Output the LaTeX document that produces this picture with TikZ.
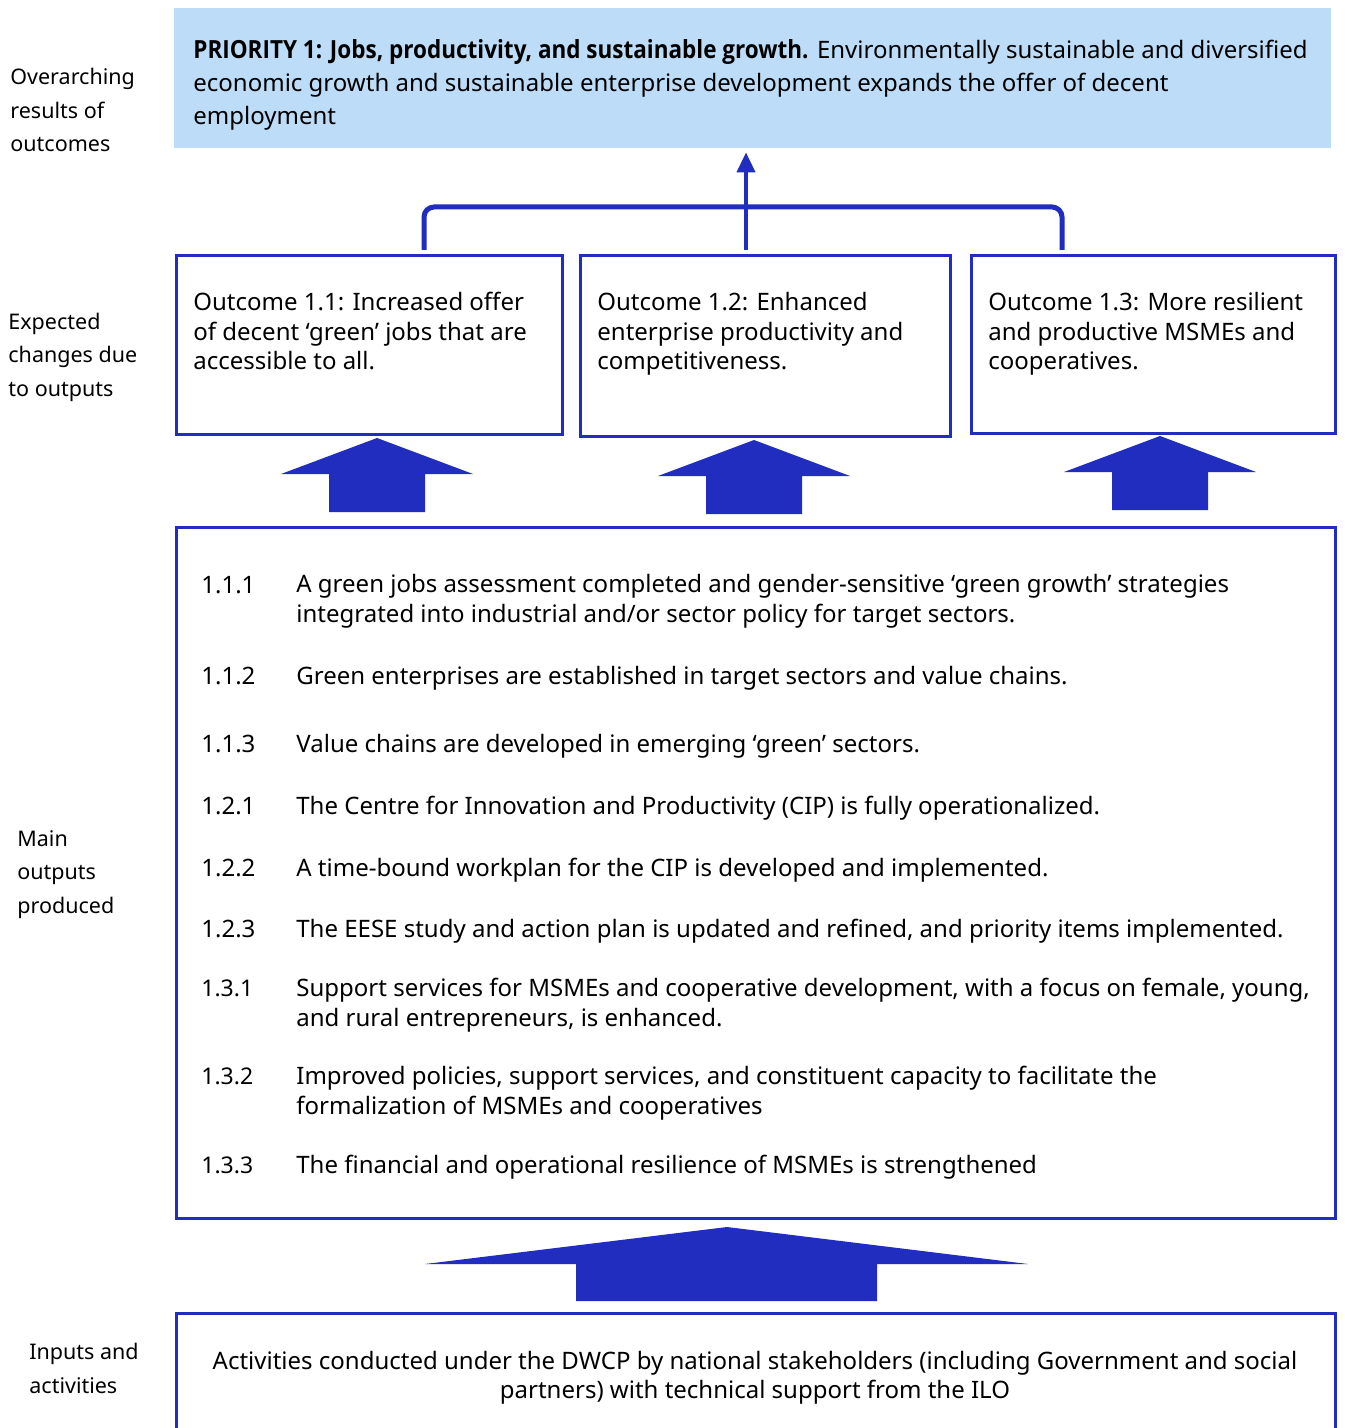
\documentclass[tikz,border=0pt]{standalone}
\usepackage{fontspec}
\setmainfont{Noto Sans}
\newfontfamily\priobold{Open Sans}[FakeStretch=0.9]
\usetikzlibrary{arrows.meta}
\definecolor{ilo blue}{RGB}{32,45,190}
\definecolor{prio fill}{RGB}{189,220,247}
\tikzset{
  sidelabel/.style={anchor=base west, align=left, inner sep=0pt, font=\fontsize{10.75}{16.75}\selectfont},
  boxtext/.style={anchor=base west, align=left, inner sep=0pt, font=\fontsize{12}{14.75}\selectfont},
  framebox/.style={draw=ilo blue, line width=1.5pt, inner sep=0pt},
  itemno/.style={anchor=base west, inner sep=0pt, font=\fontsize{12}{14}\selectfont},
  itemnosmall/.style={anchor=base west, inner sep=0pt, font=\fontsize{11.5}{14}\selectfont},
  itemtext/.style={anchor=base west, align=left, inner sep=0pt, font=\fontsize{12}{14.75}\selectfont},
  blockarrow/.style={fill=ilo blue},
}
\begin{document}
\begin{tikzpicture}[x=0.5pt, y=-0.5pt]
  \useasboundingbox (0,0) rectangle (1344,1428);

  % side labels (base = last line)
  \node[sidelabel] (lab1) at (10,152) {Overarching\\results of\\outcomes};
  \node[sidelabel] (lab2) at (8,396) {Expected\\changes due\\to outputs};
  \node[sidelabel] (lab3) at (17,913) {Main\\outputs\\produced};
  \node[sidelabel] (lab4) at (29,1393) {Inputs and\\activities};

  % priority
  \node[fill=prio fill, minimum width=578.5pt, minimum height=70pt, inner sep=0pt] (prio) at (752.5,78) {};
  \node[boxtext, font=\fontsize{12}{16.5}\selectfont] (priotext) at (193,125)
    {{\priobold\bfseries\fontsize{12.5}{16.5}\selectfont PRIORITY 1: Jobs, productivity, and sustainable growth.} Environmentally sustainable and diversified\\economic growth and sustainable enterprise development expands the offer of decent\\employment};

  % outcomes
  \node[framebox, minimum width=193pt, minimum height=89pt] (out1) at (369,345) {};
  \node[framebox, minimum width=185pt, minimum height=90pt] (out2) at (765,346) {};
  \node[framebox, minimum width=182pt, minimum height=88.5pt] (out3) at (1153,344.5) {};
  \node[boxtext] (out1text) at (193,370) {Outcome 1.1: Increased offer\\of decent ‘green’ jobs that are\\accessible to all.};
  \node[boxtext] (out2text) at (597,370) {Outcome 1.2: Enhanced\\enterprise productivity and\\competitiveness.};
  \node[boxtext] (out3text) at (988,370) {Outcome 1.3: More resilient\\and productive MSMEs and\\cooperatives.};

  % bracket and arrow to priority
  \coordinate (bl) at (424,250);
  \coordinate (bm) at (746,250);
  \coordinate (br) at (1062,250);
  \draw[ilo blue, line width=2.5pt, rounded corners=5pt] (bl) -- (424,207) -- (1062,207) -- (br);
  \draw[ilo blue, line width=2pt, -{Triangle[width=9pt,length=10pt]}, shorten >=2pt] (bm) -- (bm |- prio.south);

  % block arrows to outcomes
  \foreach \x/\y in {377/438, 754/440, 1160/436}
    \fill[blockarrow] (\x,\y) -- (\x+96,\y+36) -- (\x+48,\y+36) -- (\x+48,\y+74)
      -- (\x-48,\y+74) -- (\x-48,\y+36) -- (\x-96,\y+36) -- cycle;

  % outputs
  \node[framebox, minimum width=579.5pt, minimum height=345.5pt] (outputs) at (755.5,872.5) {};
  \node[itemno] (n111) at (201,593) {1.1.1};
  \node[itemtext] (t111) at (296,622) {A green jobs assessment completed and gender-sensitive ‘green growth’ strategies\\integrated into industrial and/or sector policy for target sectors.};
  \node[itemno] (n112) at (201,684) {1.1.2};
  \node[itemtext] (t112) at (296,684) {Green enterprises are established in target sectors and value chains.};
  \node[itemno] (n113) at (201,752) {1.1.3};
  \node[itemtext] (t113) at (296,752) {Value chains are developed in emerging ‘green’ sectors.};
  \node[itemno] (n121) at (201,814) {1.2.1};
  \node[itemtext] (t121) at (296,814) {The Centre for Innovation and Productivity (CIP) is fully operationalized.};
  \node[itemno] (n122) at (201,876) {1.2.2};
  \node[itemtext] (t122) at (296,876) {A time-bound workplan for the CIP is developed and implemented.};
  \node[itemno] (n123) at (201,937) {1.2.3};
  \node[itemtext] (t123) at (296,937) {The EESE study and action plan is updated and refined, and priority items implemented.};
  \node[itemnosmall] (n131) at (201,996) {1.3.1};
  \node[itemtext] (t131) at (296,1026) {Support services for MSMEs and cooperative development, with a focus on female, young,\\and rural entrepreneurs, is enhanced.};
  \node[itemnosmall] (n132) at (201,1084) {1.3.2};
  \node[itemtext] (t132) at (296,1114) {Improved policies, support services, and constituent capacity to facilitate the\\formalization of MSMEs and cooperatives};
  \node[itemnosmall] (n133) at (201,1173) {1.3.3};
  \node[itemtext] (t133) at (296,1173) {The financial and operational resilience of MSMEs is strengthened};

  % block arrow to outputs
  \fill[blockarrow] (727,1227) -- (1028,1264) -- (877,1264) -- (877,1301)
    -- (576,1301) -- (576,1264) -- (425,1264) -- cycle;

  % inputs
  \node[framebox, minimum width=579.5pt, minimum height=68.5pt] (inputs) at (755.5,1381.5) {};
  \node[boxtext, anchor=base, align=center, font=\fontsize{12}{14.5}\selectfont] (inputtext) at (755,1398)
    {Activities conducted under the DWCP by national stakeholders (including Government and social\\partners) with technical support from the ILO};
\end{tikzpicture}
\end{document}
